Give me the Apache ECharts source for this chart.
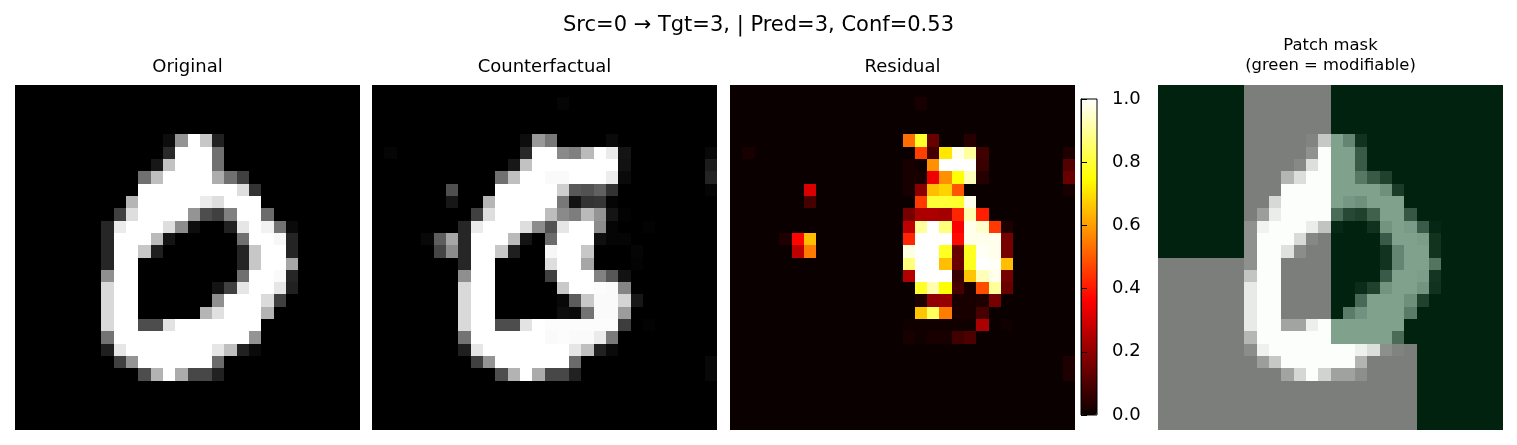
<!DOCTYPE html>
<html>
<head>
<meta charset="utf-8">
<script src="https://cdn.jsdelivr.net/npm/echarts/dist/echarts.min.js"></script>
<style>html,body{margin:0;padding:0;background:#fff}#c{width:1517px;height:445px}</style>
</head>
<body>
<div id="c"></div>
<script>
// ---------- DATA (28x28 images, row 0 = top) ----------
const pixelIndex = Array.from({length: 28}, (_, i) => String(i));

const original = [
[0,0,0,0,0,0,0,0,0,0,0,0,0,0,0,0,0,0,0,0,0,0,0,0,0,0,0,0],
[0,0,0,0,0,0,0,0,0,0,0,0,0,0,0,0,0,0,0,0,0,0,0,0,0,0,0,0],
[0,0,0,0,0,0,0,0,0,0,0,0,0,0,0,0,0,0,0,0,0,0,0,0,0,0,0,0],
[0,0,0,0,0,0,0,0,0,0,0,0,0,0,0,0,0,0,0,0,0,0,0,0,0,0,0,0],
[0,0,0,0,0,0,0,0,0,0,0,0,.05,.58,1,.78,.13,0,0,0,0,0,0,0,0,0,0,0],
[0,0,0,0,0,0,0,0,0,0,0,0,.16,1,1,1,.44,0,0,0,0,0,0,0,0,0,0,0],
[0,0,0,0,0,0,0,0,0,0,0,.09,.76,1,1,1,.44,0,0,0,0,0,0,0,0,0,0,0],
[0,0,0,0,0,0,0,0,0,0,.44,.75,1,1,1,1,.68,.44,.25,0,0,0,0,0,0,0,0,0],
[0,0,0,0,0,0,0,0,0,0,1,1,1,1,1,1,1,1,.87,.2,0,0,0,0,0,0,0,0],
[0,0,0,0,0,0,0,0,0,.71,1,1,1,1,1,.92,.87,1,1,1,0,0,0,0,0,0,0,0],
[0,0,0,0,0,0,0,0,.25,.87,1,1,1,1,.58,.3,.25,.5,1,1,.42,0,0,0,0,0,0,0],
[0,0,0,0,0,0,0,.15,.92,1,1,1,.87,.55,.05,0,0,.13,.9,1,.95,.45,.04,0,0,0,0,0],
[0,0,0,0,0,0,0,.15,1,1,1,.73,.08,0,0,0,0,0,.44,1,1,.97,.14,0,0,0,0,0],
[0,0,0,0,0,0,0,.15,1,1,.78,.12,0,0,0,0,0,0,.14,.78,1,1,.14,0,0,0,0,0],
[0,0,0,0,0,0,0,.15,1,1,0,0,0,0,0,0,0,0,.14,.78,1,1,.65,0,0,0,0,0],
[0,0,0,0,0,0,0,.56,1,1,0,0,0,0,0,0,0,0,.44,1,1,.98,.15,0,0,0,0,0],
[0,0,0,0,0,0,0,.85,1,1,0,0,0,0,0,0,.08,.25,.9,1,1,.9,.13,0,0,0,0,0],
[0,0,0,0,0,0,0,.85,1,1,0,0,0,0,0,0,.56,1,1,1,.86,.25,0,0,0,0,0,0],
[0,0,0,0,0,0,0,.85,1,1,0,0,0,0,0,.71,.88,1,1,1,.7,0,0,0,0,0,0,0],
[0,0,0,0,0,0,0,.85,1,1,.3,.3,.89,1,1,1,1,1,1,1,0,0,0,0,0,0,0,0],
[0,0,0,0,0,0,0,.45,1,1,1,1,1,1,1,1,1,1,1,.58,0,0,0,0,0,0,0,0],
[0,0,0,0,0,0,0,.12,.9,1,1,1,1,1,1,1,.9,.75,.13,.04,0,0,0,0,0,0,0,0],
[0,0,0,0,0,0,0,0,.25,.58,1,1,1,1,1,1,.42,0,0,0,0,0,0,0,0,0,0,0],
[0,0,0,0,0,0,0,0,0,0,.3,.7,1,.67,.28,.28,.13,0,0,0,0,0,0,0,0,0,0,0],
[0,0,0,0,0,0,0,0,0,0,0,0,0,0,0,0,0,0,0,0,0,0,0,0,0,0,0,0],
[0,0,0,0,0,0,0,0,0,0,0,0,0,0,0,0,0,0,0,0,0,0,0,0,0,0,0,0],
[0,0,0,0,0,0,0,0,0,0,0,0,0,0,0,0,0,0,0,0,0,0,0,0,0,0,0,0],
[0,0,0,0,0,0,0,0,0,0,0,0,0,0,0,0,0,0,0,0,0,0,0,0,0,0,0,0]
];

const counterfactual = [
[0,0,0,0,0,0,0,0,0,0,0,0,0,0,0,0,0,0,0,0,0,0,0,0,0,0,0,0],
[0,0,0,0,0,0,0,0,0,0,0,0,0,0,0,.02,0,0,0,0,0,0,0,0,0,0,0,0],
[0,0,0,0,0,0,0,0,0,0,0,0,0,0,0,0,0,0,0,0,0,0,0,0,0,0,0,0],
[0,0,0,0,0,0,0,0,0,0,0,0,0,0,0,0,0,0,0,0,0,0,0,0,0,0,0,0],
[0,0,0,0,0,0,0,0,0,0,0,0,.05,.6,.47,0,0,0,0,.04,0,0,0,0,0,0,0,0],
[0,.02,0,0,0,0,0,0,0,0,0,0,.16,1,1,.54,.5,.73,1,.92,.08,0,0,0,0,0,0,.03],
[0,0,0,0,0,0,0,0,0,0,0,.09,.76,1,1,1,1,1,1,1,.07,0,0,0,0,0,0,.11],
[0,0,0,0,0,0,0,0,0,0,.44,.75,1,1,.98,.98,1,1,1,.93,.04,0,0,0,0,0,0,.14],
[0,0,0,0,0,0,.31,0,0,0,1,1,1,1,1,.81,.35,.32,.38,.2,0,0,0,0,0,0,0,.02],
[0,0,0,0,0,0,.09,0,0,.71,1,1,1,1,1,.47,.07,.2,.21,.02,0,0,0,0,0,0,0,0],
[0,0,0,0,0,0,0,0,.25,.87,1,1,1,1,.74,.54,.49,.73,.58,.08,.01,0,0,0,0,0,0,0],
[0,0,0,0,0,0,0,.15,.92,1,1,1,.87,.55,.32,.9,1,1,.55,.02,0,0,.01,0,0,0,0,0],
[0,0,0,0,.03,.37,.65,.15,1,1,1,.73,.08,0,.42,1,1,1,.06,.02,.02,0,0,0,0,0,0,0],
[0,0,0,0,0,.27,.55,.15,1,1,.78,.12,0,0,.97,1,1,.78,0,0,0,.02,0,0,0,0,0,0],
[0,0,0,0,0,0,0,.15,1,1,0,0,0,0,.87,1,1,.65,0,0,0,.01,0,0,0,0,0,0],
[0,0,0,0,0,0,0,.56,1,1,0,0,0,0,.25,1,1,1,.51,.34,.07,0,0,0,0,0,0,0],
[0,0,0,0,0,0,0,.85,1,1,0,0,0,0,0,.79,1,1,.99,.98,.52,0,0,0,0,0,0,0],
[0,0,0,0,0,0,0,.85,1,1,0,0,0,0,0,.03,.36,.79,.98,.98,.83,.09,0,0,0,0,0,0],
[0,0,0,0,0,0,0,.85,1,1,0,0,0,0,0,.05,.04,.45,.98,.98,.61,0,0,0,0,0,0,0],
[0,0,0,0,0,0,0,.85,1,1,.3,.3,.89,1,.99,.99,.99,.99,.99,.99,.24,0,.01,0,0,0,0,0],
[0,0,0,0,0,0,0,.45,1,1,1,1,1,1,.98,.99,.98,.98,.92,.48,0,0,0,0,0,0,0,0],
[0,0,0,0,0,0,0,.12,.9,1,1,1,1,1,1,1,.9,.75,.13,.04,0,0,0,0,0,0,0,0],
[0,0,0,0,0,0,0,0,.25,.58,1,1,1,1,1,1,.42,0,0,0,0,0,0,0,0,0,0,.03],
[0,0,0,0,0,0,0,0,0,0,.3,.7,1,.67,.28,.28,.13,0,0,0,0,0,0,0,0,0,0,.03],
[0,0,0,0,0,0,0,0,0,0,0,0,0,0,0,0,0,0,0,0,0,0,0,0,0,0,0,0],
[0,0,0,0,0,0,0,0,0,0,0,0,0,0,0,0,0,0,0,0,0,0,0,0,0,0,0,0],
[0,0,0,0,0,0,0,0,0,0,0,0,0,0,0,0,0,0,0,0,0,0,0,0,0,0,0,0],
[0,0,0,0,0,0,0,0,0,0,0,0,0,0,0,0,0,0,0,0,0,0,0,0,0,0,0,0]
];

const residual = [
[0,0,0,0,0,0,0,0,0,0,0,0,0,0,0,0,0,0,0,0,0,0,0,0,0,0,0,0],
[0,0,0,0,0,0,0,0,0,0,0,0,0,0,0,.02,0,0,0,0,0,0,0,0,0,0,0,0],
[0,0,0,0,0,0,0,0,0,0,0,0,0,0,0,0,0,0,0,0,0,0,0,0,0,0,0,0],
[0,0,0,0,0,0,0,0,0,0,0,0,0,0,0,0,0,0,0,0,0,0,0,0,0,0,0,0],
[0,0,0,0,0,0,0,0,0,0,0,0,0,0,.53,.79,.14,0,0,.04,0,0,0,0,0,0,0,0],
[0,.02,0,0,0,0,0,0,0,0,0,0,0,0,0,.46,.08,.71,.98,.9,.08,0,0,0,0,0,0,.03],
[0,0,0,0,0,0,0,0,0,0,0,0,0,0,.02,.01,.58,1,1,1,.07,0,0,0,0,0,0,.11],
[0,0,0,0,0,0,0,0,0,0,0,0,0,0,.02,.02,.34,.58,.75,.93,.04,0,0,0,0,0,0,.14],
[0,0,0,0,0,0,.31,0,0,0,0,0,0,0,.02,.19,.65,.68,.49,0,0,0,0,0,0,0,0,.02],
[0,0,0,0,0,0,.09,0,0,0,0,0,0,0,0,.45,.8,.8,.79,.98,0,0,0,0,0,0,0,0],
[0,0,0,0,0,0,0,0,0,0,0,0,0,0,.16,.24,.24,.23,.42,.92,.41,0,0,0,0,0,0,0],
[0,0,0,0,0,0,0,0,0,0,0,0,0,0,.27,.9,1,.87,.36,.98,.95,.45,.03,0,0,0,0,0],
[0,0,0,0,.03,.37,.65,0,0,0,0,0,0,0,.42,1,1,1,.38,.98,.98,.98,.16,0,0,0,0,0],
[0,0,0,0,0,.27,.55,0,0,0,0,0,0,0,.97,1,1,.78,.14,.78,.99,.98,.16,0,0,0,0,0],
[0,0,0,0,0,0,0,0,0,0,0,0,0,0,.87,1,1,.65,.14,.78,1,.99,.65,0,0,0,0,0],
[0,0,0,0,0,0,0,0,0,0,0,0,0,0,.25,1,1,1,.07,.66,.93,.98,.16,0,0,0,0,0],
[0,0,0,0,0,0,0,0,0,0,0,0,0,0,0,.79,.92,.75,.09,.02,.48,.9,.14,0,0,0,0,0],
[0,0,0,0,0,0,0,0,0,0,0,0,0,0,0,.03,.2,.21,.02,.02,.03,.16,0,0,0,0,0,0],
[0,0,0,0,0,0,0,0,0,0,0,0,0,0,0,.66,.84,.55,.02,.02,.09,0,0,0,0,0,0,0],
[0,0,0,0,0,0,0,0,0,0,0,0,0,0,.01,.01,.01,.01,.01,.01,.24,0,.01,0,0,0,0,0],
[0,0,0,0,0,0,0,0,0,0,0,0,0,0,.02,.01,.02,.02,.08,.1,0,0,0,0,0,0,0,0],
[0,0,0,0,0,0,0,0,0,0,0,0,0,0,0,0,0,0,0,0,0,0,0,0,0,0,0,0],
[0,0,0,0,0,0,0,0,0,0,0,0,0,0,0,0,0,0,0,0,0,0,0,0,0,0,0,.03],
[0,0,0,0,0,0,0,0,0,0,0,0,0,0,0,0,0,0,0,0,0,0,0,0,0,0,0,.03],
[0,0,0,0,0,0,0,0,0,0,0,0,0,0,0,0,0,0,0,0,0,0,0,0,0,0,0,0],
[0,0,0,0,0,0,0,0,0,0,0,0,0,0,0,0,0,0,0,0,0,0,0,0,0,0,0,0],
[0,0,0,0,0,0,0,0,0,0,0,0,0,0,0,0,0,0,0,0,0,0,0,0,0,0,0,0],
[0,0,0,0,0,0,0,0,0,0,0,0,0,0,0,0,0,0,0,0,0,0,0,0,0,0,0,0]
];

// 4x4 grid of 7x7 patches: 1 = modifiable (green)
const patchMask = [
[1,0,1,1],
[1,0,1,1],
[0,0,1,1],
[0,0,0,1]
];
const patchSize = 7;

const colorbarTicks = [0, 0.2, 0.4, 0.6, 0.8, 1.0];

const titles = {
  main: 'Src=0 \u2192 Tgt=3, | Pred=3, Conf=0.53',
  original: 'Original',
  counterfactual: 'Counterfactual',
  residual: 'Residual',
  mask: 'Patch mask\n(green = modifiable)'
};

// ---------- helpers ----------
function toCells(img) {
  const out = [];
  for (let r = 0; r < img.length; r++)
    for (let c = 0; c < img[r].length; c++) out.push([c, r, img[r][c]]);
  return out;
}
function toMaskCells(img) {
  const out = [];
  for (let r = 0; r < img.length; r++)
    for (let c = 0; c < img[r].length; c++)
      out.push([c, r, img[r][c], patchMask[Math.floor(r / patchSize)][Math.floor(c / patchSize)]]);
  return out;
}
function clamp(x) { return Math.max(0, Math.min(1, x)); }
function hot(v) {
  const r = clamp(0.0416 + v * (1 - 0.0416) / 0.365079);
  const g = clamp((v - 0.365079) / (0.746032 - 0.365079));
  const b = clamp((v - 0.746032) / (1 - 0.746032));
  return 'rgb(' + Math.round(r * 255) + ',' + Math.round(g * 255) + ',' + Math.round(b * 255) + ')';
}
const hotStops = [];
for (let i = 0; i <= 64; i++) hotStops.push(hot(i / 64));

// Greens overlay (alpha 0.5) for the patch mask panel
const GREEN_ON = [0, 68, 27], GREEN_OFF = [247, 252, 245];
function maskColor(v, m) {
  const ov = m ? GREEN_ON : GREEN_OFF;
  const g = v * 255;
  return 'rgb(' + ov.map(o => Math.round(0.5 * g + 0.5 * o)).join(',') + ')';
}

// snap a coordinate consistently so neighbouring cells share exact edges
function snap(v) { return Math.round(Math.round(v * 64) / 64); }
function cellRect(api) {
  const p = api.coord([api.value(0), api.value(1)]);
  const s = api.size([1, 1]);
  const x0 = snap(p[0] - s[0] / 2), x1 = snap(p[0] + s[0] / 2);
  const y0 = snap(p[1] - s[1] / 2), y1 = snap(p[1] + s[1] / 2);
  return { x: x0, y: y0, width: x1 - x0 + 0.6, height: y1 - y0 + 0.6 };
}
function renderMapped(params, api) {
  return { type: 'rect', shape: cellRect(api), style: { fill: api.visual('color') } };
}
function renderMask(params, api) {
  return { type: 'rect', shape: cellRect(api), style: { fill: maskColor(api.value(2), api.value(3)) } };
}

const FONT = 'DejaVu Sans';
const panelLefts = [15, 372, 730, 1158];
const PANEL_TOP = 85, PANEL_SIZE = 345;

const grids = panelLefts.map(l => ({ left: l, top: PANEL_TOP, width: PANEL_SIZE, height: PANEL_SIZE }));
grids.push({ left: 1081, top: 99, width: 16, height: 316, show: true, borderColor: '#000', borderWidth: 1, backgroundColor: 'transparent', z: 10 });

const xAxes = panelLefts.map((l, i) => ({ type: 'category', gridIndex: i, data: pixelIndex, show: false }));
xAxes.push({ type: 'value', gridIndex: 4, min: 0, max: 1, show: false });
const yAxes = panelLefts.map((l, i) => ({ type: 'category', gridIndex: i, data: pixelIndex, inverse: true, show: false }));
yAxes.push({
  type: 'value', gridIndex: 4, min: 0, max: 1, interval: 0.2, position: 'right', z: 10,
  axisLine: { show: true, lineStyle: { color: '#000', width: 1 } },
  axisTick: { show: true, length: 6, lineStyle: { color: '#000', width: 1 } },
  splitLine: { show: false },
  axisLabel: { show: true, margin: 15, fontSize: 18, fontFamily: FONT, color: '#000',
    formatter: v => (colorbarTicks.some(t => Math.abs(t - v) < 1e-9) ? v.toFixed(1) : '') }
});

const cellBase = { type: 'custom', silent: true, animation: false, encode: { x: 0, y: 1 }, clip: true };
const titleStyle = { fontSize: 18, fontWeight: 'normal', color: '#000', fontFamily: FONT };

const option = {
  backgroundColor: '#ffffff',
  animation: false,
  textStyle: { fontFamily: FONT },
  title: [
    { text: titles.main, left: 'center', top: 15, padding: 0,
      textStyle: { fontSize: 21, fontWeight: 'normal', color: '#000', fontFamily: FONT } },
    { text: titles.original, left: 187.5, textAlign: 'center', top: 58, padding: 0, textStyle: titleStyle },
    { text: titles.counterfactual, left: 544.5, textAlign: 'center', top: 58, padding: 0, textStyle: titleStyle },
    { text: titles.residual, left: 902.5, textAlign: 'center', top: 58, padding: 0, textStyle: titleStyle },
    { text: titles.mask, left: 1330.5, textAlign: 'center', top: 36, padding: 0,
      textStyle: { fontSize: 16.4, lineHeight: 20, fontWeight: 'normal', color: '#000', fontFamily: FONT } }
  ],
  grid: grids,
  xAxis: xAxes,
  yAxis: yAxes,
  visualMap: [
    { type: 'continuous', min: 0, max: 1, dimension: 2, seriesIndex: [0, 1], show: false,
      inRange: { color: ['#000000', '#ffffff'] } },
    { type: 'continuous', min: 0, max: 1, dimension: 2, seriesIndex: [2], show: true, calculable: false,
      orient: 'vertical', left: 1081, top: 99, itemWidth: 16, itemHeight: 316, padding: 0,
      text: null, hoverLink: false, inRange: { color: hotStops } }
  ],
  series: [
    Object.assign({}, cellBase, { xAxisIndex: 0, yAxisIndex: 0, data: toCells(original), renderItem: renderMapped }),
    Object.assign({}, cellBase, { xAxisIndex: 1, yAxisIndex: 1, data: toCells(counterfactual), renderItem: renderMapped }),
    Object.assign({}, cellBase, { xAxisIndex: 2, yAxisIndex: 2, data: toCells(residual), renderItem: renderMapped }),
    Object.assign({}, cellBase, { xAxisIndex: 3, yAxisIndex: 3, data: toMaskCells(original), renderItem: renderMask })
  ]
};

const chart = echarts.init(document.getElementById('c'), null, { renderer: 'canvas' });
chart.setOption(option);
</script>
</body>
</html>
